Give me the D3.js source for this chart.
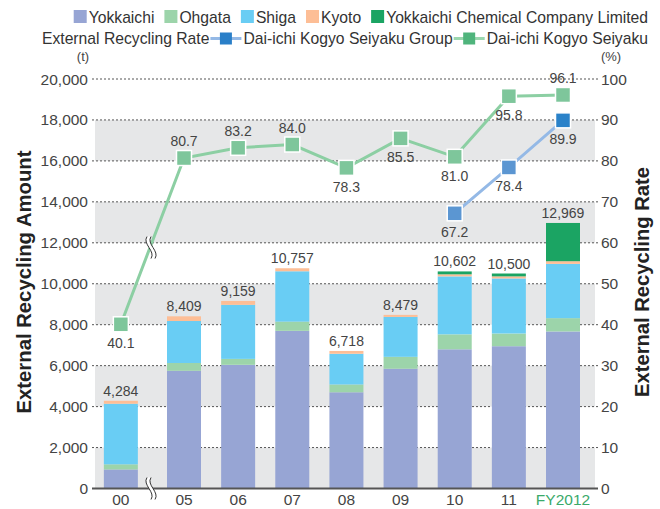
<!DOCTYPE html>
<html><head><meta charset="utf-8">
<script src="https://cdn.jsdelivr.net/npm/d3@7/dist/d3.min.js"></script>
<style>body{margin:0;background:#fff;}svg{display:block;font-family:"Liberation Sans",Arial,sans-serif;}</style>
</head><body>
<script>
// ---- data ----
const categories = ["00","05","06","07","08","09","10","11","FY2012"];
const yokkaichi = [930, 5750, 6040, 7700, 4700, 5850, 6800, 6950, 7670];
const ohgata    = [250, 380, 290, 450, 380, 580, 730, 620, 650];
const shiga     = [2960, 2050, 2640, 2460, 1500, 1950, 2830, 2690, 2650];
const kyoto     = [144, 229, 189, 147, 138, 99, 100, 100, 130];
const ycc       = [0, 0, 0, 0, 0, 0, 142, 140, 1869];
const totals    = [4284, 8409, 9159, 10757, 6718, 8479, 10602, 10500, 12969];
const rateDKS   = [40.1, 80.7, 83.2, 84.0, 78.3, 85.5, 81.0, 95.8, 96.1];
const rateGroupCats = ["10","11","FY2012"];
const rateGroup = [67.2, 78.4, 89.9];
const leftTicks = [0,2000,4000,6000,8000,10000,12000,14000,16000,18000,20000];
const rightTicks = [0,10,20,30,40,50,60,70,80,90,100];
const seriesNames = ["Yokkaichi","Ohgata","Shiga","Kyoto","Yokkaichi Chemical Company Limited"];
const seriesColors = ["#97a5d4","#9cd4aa","#69cdf4","#fdbe96","#1ba463"];

// ---- layout ----
const W = 660, H = 509;
const L = 95, R = 595, Y0 = 488.5, YT = 79;
const barW = 34, breakShift = 9;
const svg = d3.select("body").append("svg").attr("width", W).attr("height", H);

const y = d3.scaleLinear().domain([0, 20000]).range([Y0, YT]);
const yr = d3.scaleLinear().domain([0, 100]).range([Y0, YT]);
const xi = d3.scaleLinear().domain([1, 8]).range([184, 563]);
const xc = c => { const i = categories.indexOf(c); return xi(i) - (i === 0 ? breakShift : 0); };

// bands
const bands = [[0,2000],[4000,6000],[8000,10000],[12000,14000],[16000,18000]];
svg.append("g").selectAll("rect").data(bands).join("rect")
  .attr("x", L).attr("width", R - L)
  .attr("y", d => y(d[1])).attr("height", d => y(d[0]) - y(d[1]))
  .attr("fill", "#e6e7e8");

// grid
svg.append("g").selectAll("line").data(leftTicks.filter(t => t > 0)).join("line")
  .attr("x1", L - 3).attr("x2", R + 3)
  .attr("y1", d => y(d)).attr("y2", d => y(d))
  .attr("stroke", "#555").attr("stroke-width", 1).attr("stroke-dasharray", "2,2");

// stacked bars
const stackData = categories.map((c, i) => ({cat: c, s0: yokkaichi[i], s1: ohgata[i], s2: shiga[i], s3: kyoto[i], s4: ycc[i]}));
const stack = d3.stack().keys(["s0","s1","s2","s3","s4"])(stackData);
svg.append("g").selectAll("g").data(stack).join("g")
  .attr("fill", (d, i) => seriesColors[i])
  .selectAll("rect").data(d => d).join("rect")
  .attr("x", d => xc(d.data.cat) - barW / 2).attr("width", barW)
  .attr("y", d => y(d[1])).attr("height", d => Math.max(0, y(d[0]) - y(d[1])));

// axis line
svg.append("line").attr("x1", L - 3).attr("x2", R + 3).attr("y1", Y0).attr("y2", Y0)
  .attr("stroke", "#555").attr("stroke-width", 2);

// bar totals
svg.append("g").selectAll("text").data(categories).join("text")
  .attr("x", d => xc(d)).attr("y", (d, i) => y(totals[i]) - 5)
  .attr("text-anchor", "middle").attr("font-size", 14).attr("fill", "#444")
  .text((d, i) => d3.format(",")(totals[i]));

// left axis labels
svg.append("g").selectAll("text").data(leftTicks).join("text")
  .attr("x", 88).attr("y", d => y(d) + 5.5).attr("text-anchor", "end")
  .attr("font-size", 15.5).attr("fill", "#444").text(d => d3.format(",")(d));
// right axis labels
svg.append("g").selectAll("text").data(rightTicks).join("text")
  .attr("x", 601).attr("y", d => yr(d) + 5.5).attr("text-anchor", "start")
  .attr("font-size", 15.5).attr("fill", "#444").text(d => d);

svg.append("text").attr("x", 83).attr("y", 61).attr("text-anchor", "middle").attr("font-size", 13).attr("fill", "#444").text("(t)");
svg.append("text").attr("x", 611).attr("y", 61).attr("text-anchor", "middle").attr("font-size", 13).attr("fill", "#444").text("(%)");

// x labels
svg.append("g").selectAll("text").data(categories).join("text")
  .attr("x", d => xc(d)).attr("y", 505).attr("text-anchor", "middle")
  .attr("font-size", 15.5).attr("fill", d => d === "FY2012" ? "#3aaa6a" : "#444").text(d => d);

// axis titles
svg.append("text").attr("transform", "translate(31,282) rotate(-90)").attr("text-anchor", "middle")
  .attr("font-size", 20).attr("font-weight", "bold").attr("fill", "#222")
  .attr("textLength", 263).attr("lengthAdjust", "spacingAndGlyphs").text("External Recycling Amount");
svg.append("text").attr("transform", "translate(649,282) rotate(-90)").attr("text-anchor", "middle")
  .attr("font-size", 20).attr("font-weight", "bold").attr("fill", "#222")
  .attr("textLength", 230).attr("lengthAdjust", "spacingAndGlyphs").text("External Recycling Rate");

// break marks
function breakMark(cx, cy, h) {
  const g = svg.append("g").attr("transform", `translate(${cx},${cy})`);
  const p = (dx) => `M${-3+dx},${-h/2} C${-8+dx},${-h/6} ${6+dx},${h/6} ${1+dx},${h/2}`;
  g.append("path").attr("d", `M-3,${-h/2} C-8,${-h/6} 6,${h/6} 1,${h/2} L5,${h/2} C10,${h/6} -4,${-h/6} 1,${-h/2} Z`).attr("fill", "#fff");
  g.append("path").attr("d", p(0)).attr("fill", "none").attr("stroke", "#333").attr("stroke-width", 1);
  g.append("path").attr("d", p(4)).attr("fill", "none").attr("stroke", "#333").attr("stroke-width", 1);
}
breakMark(150, Y0, 22);

// lines
const line = d3.line().x(d => d[0]).y(d => d[1]);
const dksPts = categories.map((c, i) => [xc(c), yr(rateDKS[i])]);
svg.append("path").attr("d", line(dksPts)).attr("fill", "none").attr("stroke", "#8ccfa3").attr("stroke-width", 3);
const grpPts = rateGroupCats.map((c, i) => [xc(c), yr(rateGroup[i])]);
svg.append("path").attr("d", line(grpPts)).attr("fill", "none").attr("stroke", "#94b9e6").attr("stroke-width", 3);

// break mark on rate line between 00 and 05
{
  const bx = 150, t = (bx - dksPts[0][0]) / (dksPts[1][0] - dksPts[0][0]);
  breakMark(bx, dksPts[0][1] + t * (dksPts[1][1] - dksPts[0][1]), 22);
}

const ms = 15;
svg.append("g").selectAll("rect").data(dksPts).join("rect")
  .attr("x", d => d[0] - ms/2).attr("y", d => d[1] - ms/2).attr("width", ms).attr("height", ms)
  .attr("fill", "#7ec69b").attr("stroke", "#fff").attr("stroke-width", 1.5);
svg.append("g").selectAll("rect").data(grpPts).join("rect")
  .attr("x", d => d[0] - ms/2).attr("y", d => d[1] - ms/2).attr("width", ms).attr("height", ms)
  .attr("fill", (d, i) => i === 2 ? "#2a82c9" : "#5b96d2").attr("stroke", "#fff").attr("stroke-width", 1.5);

// rate labels
const dksBelow = [true, false, false, false, true, true, true, true, false];
svg.append("g").selectAll("text").data(dksPts).join("text")
  .attr("x", d => d[0]).attr("y", (d, i) => dksBelow[i] ? d[1] + 24 : d[1] - 12)
  .attr("text-anchor", "middle").attr("font-size", 14).attr("fill", "#444")
  .text((d, i) => rateDKS[i].toFixed(1));
svg.append("g").selectAll("text").data(grpPts).join("text")
  .attr("x", d => d[0]).attr("y", d => d[1] + 24)
  .attr("text-anchor", "middle").attr("font-size", 14).attr("fill", "#444")
  .text((d, i) => rateGroup[i].toFixed(1));

// legend row 1 (right aligned)
const fs = 15.7;
const lg1 = svg.append("g");
let lx = 648;
const row1 = seriesNames.map((n, i) => ({n, c: seriesColors[i]})).reverse();
row1.forEach(it => {
  const t = lg1.append("text").attr("x", lx).attr("y", 23).attr("text-anchor", "end").attr("font-size", fs).attr("fill", "#333").text(it.n);
  const w = t.node().getComputedTextLength();
  lg1.append("rect").attr("x", lx - w - 15).attr("y", 10).attr("width", 13).attr("height", 13).attr("fill", it.c);
  lx = lx - w - 25;
});
// legend row 2
const lg2 = svg.append("g");
lx = 648;
const row2 = [
  {n: "Dai-ichi Kogyo Seiyaku", lc: "#9ad7ae", mc: "#4fb47c"},
  {n: "Dai-ichi Kogyo Seiyaku Group", lc: "#94b9e6", mc: "#2a7fc8"}
];
row2.forEach(it => {
  const t = lg2.append("text").attr("x", lx).attr("y", 44).attr("text-anchor", "end").attr("font-size", fs).attr("fill", "#333").text(it.n);
  const w = t.node().getComputedTextLength();
  const sx = lx - w - 33;
  lg2.append("line").attr("x1", sx).attr("x2", sx + 31).attr("y1", 38.5).attr("y2", 38.5).attr("stroke", it.lc).attr("stroke-width", 3);
  lg2.append("rect").attr("x", sx + 9.5).attr("y", 32.5).attr("width", 12).attr("height", 12).attr("fill", it.mc);
  lx = sx - 1;
});
lg2.append("text").attr("x", lx).attr("y", 44).attr("text-anchor", "end").attr("font-size", fs).attr("fill", "#333").text("External Recycling Rate");
</script>
</body></html>
